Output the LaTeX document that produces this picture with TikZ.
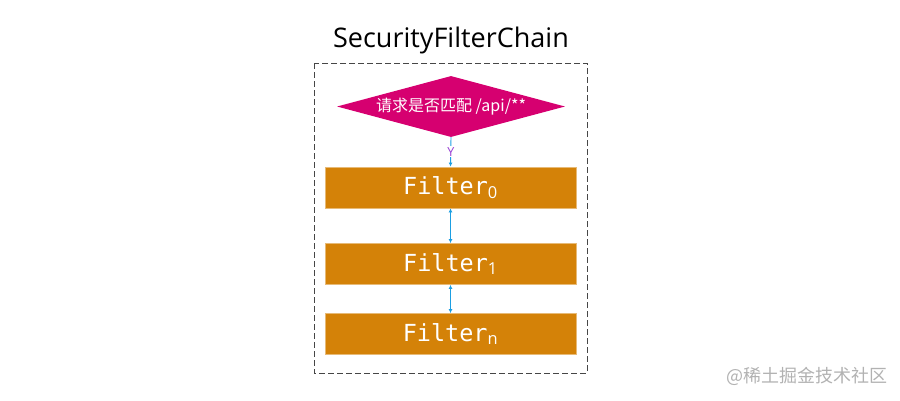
\documentclass[tikz,border=0pt]{standalone}
\usepackage{fontspec}
\setmainfont{Open Sans}
\setmonofont{DejaVu Sans Mono}
\newfontfamily\cjk{Noto Sans CJK SC}
\usetikzlibrary{positioning,arrows.meta,shapes.geometric}
\definecolor{matchpink}{RGB}{214,0,112}
\definecolor{filterorange}{RGB}{212,130,8}
\definecolor{linkblue}{RGB}{27,158,226}
\definecolor{yespurple}{RGB}{150,60,210}
\definecolor{framegray}{RGB}{70,70,70}
\tikzset{
  filterbox/.style={draw=filterorange!55!white, line width=0.8pt, fill=filterorange, minimum width=251pt, minimum height=41pt, inner sep=0pt, text=white, font=\ttfamily\fontsize{23.5}{23.5}\selectfont},
  matchdiamond/.style={diamond, aspect=3.7, fill=matchpink, minimum width=228pt, minimum height=61pt, inner sep=0pt, text=white, font=\cjk\fontsize{16}{16}\selectfont},
  linkarrow/.style={{Latex[length=4pt,width=4pt]}-{Latex[length=4pt,width=4pt]}, draw=linkblue, line width=0.9pt},
  flowarrow/.style={-{Latex[length=4pt,width=4pt]}, draw=linkblue, line width=0.9pt},
  chainframe/.style={draw=framegray, line width=0.8pt, dash pattern=on 6pt off 3pt}
}
\newcommand{\filterlabel}[1]{Filter\textsubscript{\rmfamily #1}}
\begin{document}
\begin{tikzpicture}[x=1pt, y=-1pt]
  \useasboundingbox (0,0) rectangle (900,400);
  \node[font=\fontsize{27}{27}\selectfont] (title) at (451,40) {SecurityFilterChain};
  \draw[chainframe] (314,63) rectangle (587,373);
  \node[matchdiamond] (match) at (451,106.5) {请求是否匹配 /api/**};
  \node[filterbox] (f0) at (450.5,187.5) {\filterlabel{0}};
  \node[filterbox] (f1) at (450.5,264) {\filterlabel{1}};
  \node[filterbox] (fn) at (450.5,334) {\filterlabel{n}};
  \draw[flowarrow] (match.south) -- node[fill=white, inner sep=1pt, text=yespurple, font=\fontsize{12.5}{12.5}\selectfont] {Y} (f0.north);
  \draw[linkarrow] (f0.south) -- (f1.north);
  \draw[linkarrow] (f1.south) -- (fn.north);
  % watermark
  \node[text=black!30, font=\cjk\fontsize{18}{18}\selectfont] (mark) at (807,376) {@稀土掘金技术社区};
\end{tikzpicture}
\end{document}
